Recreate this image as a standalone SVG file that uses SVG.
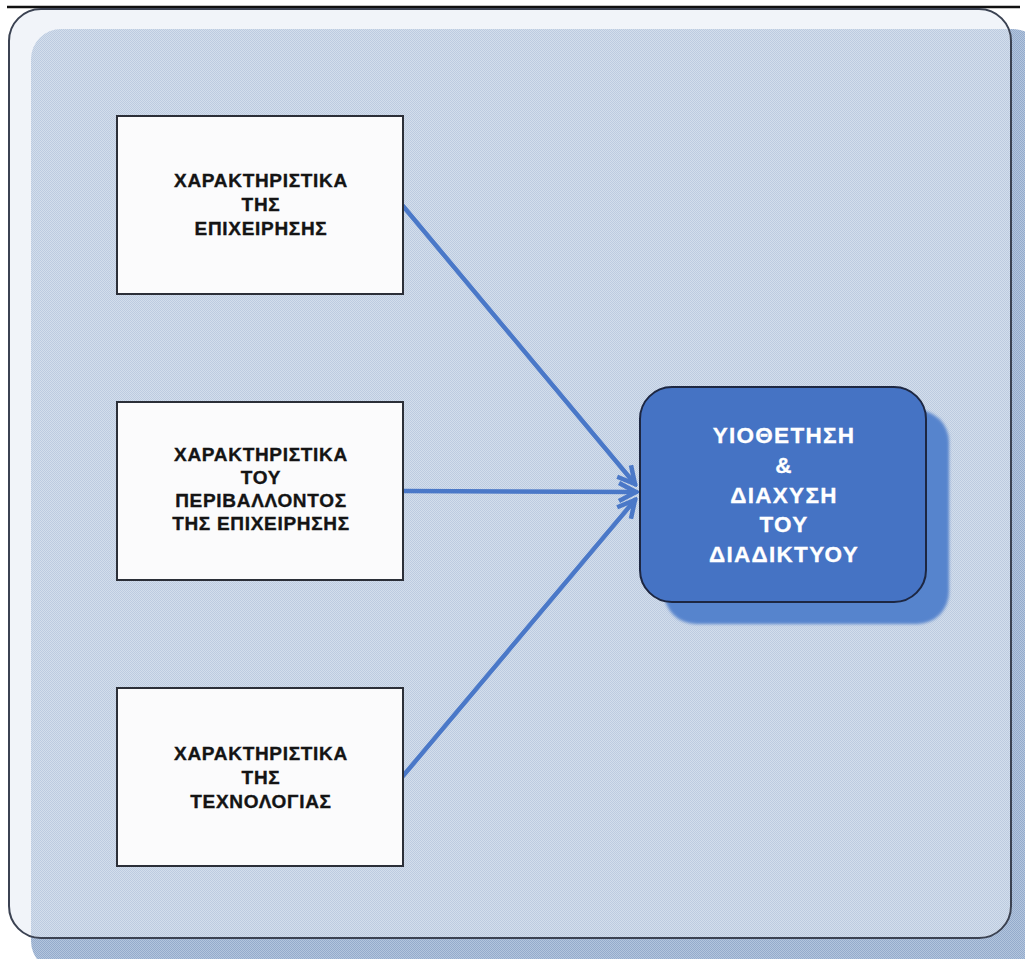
<svg xmlns="http://www.w3.org/2000/svg" width="1025" height="959" viewBox="0 0 1025 959">
  <style>
    .box { fill: #fbfbfc; stroke: #2b2f38; stroke-width: 2; }
    .label { font-family: "Liberation Sans", Arial, sans-serif; font-weight: bold; font-size: 19px; letter-spacing: 0.7px; fill: #141414; stroke: #141414; stroke-width: 0.35; text-anchor: middle; }
    .hub-label { font-family: "Liberation Sans", Arial, sans-serif; font-weight: bold; font-size: 22.5px; letter-spacing: 1.3px; fill: #ffffff; stroke: #ffffff; stroke-width: 0.3; text-anchor: middle; }
    .link { fill: none; stroke: #4a78c8; stroke-width: 4.5; stroke-linecap: round; }
  </style>
  <defs>
    <!-- fine dot screen used for the panel fill -->
    <pattern id="dotsLight" width="2" height="2" patternUnits="userSpaceOnUse">
      <rect width="2" height="2" fill="#d3deec"/>
      <rect width="1" height="1" fill="#bccbe0"/>
      <rect x="1" y="1" width="1" height="1" fill="#bccbe0"/>
    </pattern>
    <pattern id="dotsDark" width="2" height="2" patternUnits="userSpaceOnUse">
      <rect width="2" height="2" fill="#b3c5dd"/>
      <rect width="1" height="1" fill="#94abcc"/>
      <rect x="1" y="1" width="1" height="1" fill="#94abcc"/>
    </pattern>
    <clipPath id="frameClip">
      <rect x="10" y="10" width="1000" height="927" rx="31"/>
    </clipPath>
    <marker id="arrowHead" viewBox="0 0 22 22" refX="19" refY="11" markerWidth="22" markerHeight="22" markerUnits="userSpaceOnUse" orient="auto">
      <path d="M2,2 L19,11 L2,20" fill="none" stroke="#4a78c8" stroke-width="4.5" stroke-linejoin="miter"/>
    </marker>
    <filter id="soft" x="-10%" y="-10%" width="120%" height="120%">
      <feGaussianBlur stdDeviation="1.5"/>
    </filter>
  </defs>

  <!-- top rule -->
  <line x1="7" y1="7" x2="1020" y2="7" stroke="#111" stroke-width="2.5"/>

  <!-- background panel: darker part outside the frame -->
  <rect x="31" y="29" width="1012" height="942" rx="30" fill="url(#dotsDark)"/>
  <!-- frame -->
  <rect x="9" y="9" width="1002" height="929" rx="32" fill="#f1f4f9"/>
  <!-- lighter part of the panel inside the frame -->
  <g clip-path="url(#frameClip)">
    <rect x="31" y="29" width="1012" height="942" rx="30" fill="url(#dotsLight)"/>
  </g>
  <rect x="9" y="9" width="1002" height="929" rx="32" fill="none" stroke="#3b4252" stroke-width="2"/>

  <!-- connectors -->
  <g id="connectors">
    <line class="link" x1="403" y1="206" x2="635" y2="484" marker-end="url(#arrowHead)"/>
    <line class="link" x1="403" y1="491" x2="636" y2="492" marker-end="url(#arrowHead)"/>
    <line class="link" x1="403" y1="776" x2="635" y2="500" marker-end="url(#arrowHead)"/>
  </g>

  <g id="node-business">
    <rect class="box" x="117" y="116" width="286" height="178"/>
    <text class="label" x="261" y="187">ΧΑΡΑΚΤΗΡΙΣΤΙΚΑ</text>
    <text class="label" x="261" y="211">ΤΗΣ</text>
    <text class="label" x="261" y="235">ΕΠΙΧΕΙΡΗΣΗΣ</text>
  </g>

  <g id="node-environment">
    <rect class="box" x="117" y="402" width="286" height="178"/>
    <text class="label" x="261" y="461">ΧΑΡΑΚΤΗΡΙΣΤΙΚΑ</text>
    <text class="label" x="261" y="484">ΤΟΥ</text>
    <text class="label" x="261" y="507">ΠΕΡΙΒΑΛΛΟΝΤΟΣ</text>
    <text class="label" x="261" y="530">ΤΗΣ ΕΠΙΧΕΙΡΗΣΗΣ</text>
  </g>

  <g id="node-technology">
    <rect class="box" x="117" y="688" width="286" height="178"/>
    <text class="label" x="261" y="760">ΧΑΡΑΚΤΗΡΙΣΤΙΚΑ</text>
    <text class="label" x="261" y="784">ΤΗΣ</text>
    <text class="label" x="261" y="808">ΤΕΧΝΟΛΟΓΙΑΣ</text>
  </g>

  <g id="node-adoption">
    <rect x="664" y="410" width="285" height="214" rx="32" fill="#5684cd" filter="url(#soft)"/>
    <rect x="640" y="387" width="286" height="215" rx="32" fill="#4573c4" stroke="#1d2742" stroke-width="2"/>
    <text class="hub-label" x="784" y="443">ΥΙΟΘΕΤΗΣΗ</text>
    <text class="hub-label" x="784" y="473">&amp;</text>
    <text class="hub-label" x="784" y="503">ΔΙΑΧΥΣΗ</text>
    <text class="hub-label" x="784" y="532">ΤΟΥ</text>
    <text class="hub-label" x="784" y="562">ΔΙΑΔΙΚΤΥΟΥ</text>
  </g>
</svg>
